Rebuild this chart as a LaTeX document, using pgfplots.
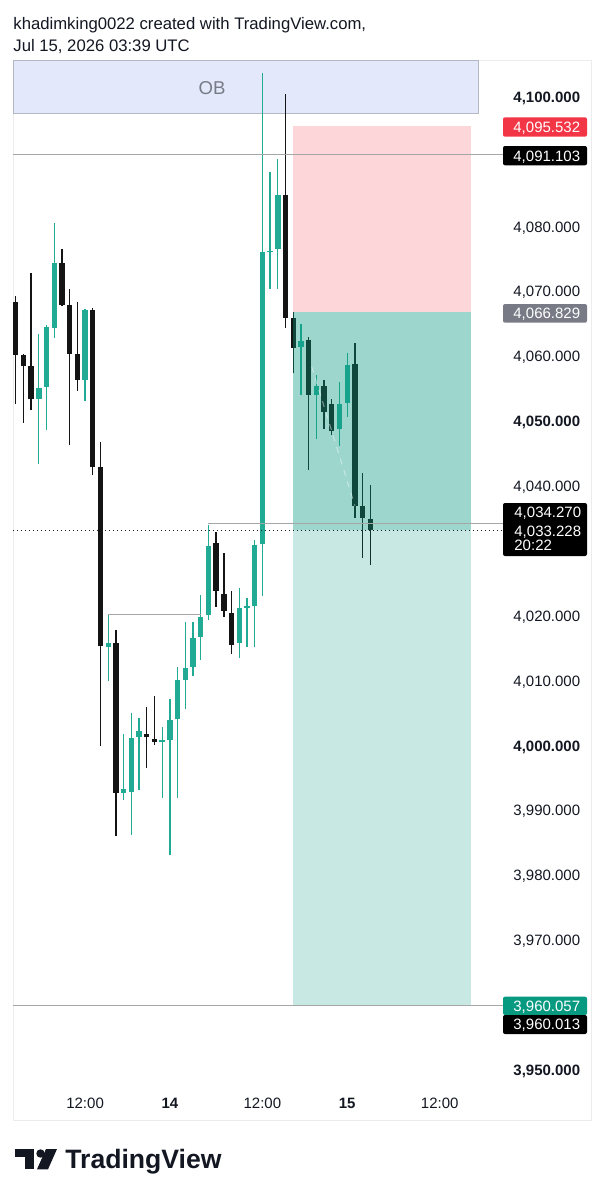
\documentclass[border=0pt]{standalone}
\usepackage{pgfplots}
\pgfplotsset{compat=1.18}
\usepackage{pgfplotstable}
\usepackage{fontspec}
\setmainfont{Liberation Sans}
\definecolor{tvup}{HTML}{22AB94}
\definecolor{tvdown}{HTML}{141414}
\definecolor{tvgreen}{HTML}{089981}
\definecolor{tvred}{HTML}{F23645}
\definecolor{tvgray}{HTML}{787B86}
\definecolor{tvtext}{HTML}{131722}
\definecolor{obfill}{HTML}{E3E8FB}
\definecolor{obline}{HTML}{B4B8C4}
\definecolor{hline}{HTML}{A6A6A6}
\definecolor{panel}{HTML}{ECECEC}
\newcommand\pf{\fontsize{7.5pt}{8pt}\selectfont}

% bullish candles: index, open, high, low, close
\pgfplotstableread{
i O H L C
3 4053.4 4063.5 4043.4 4055.2
4 4055.3 4064.9 4048.7 4064.5
5 4064.4 4080.6 4062.9 4074.4
9 4056.3 4067.3 4053.2 4067.1
12 4015.2 4020.15 4009.9 4015.8
14 3992.7 4001.8 3991.6 3993.3
15 3992.9 4005.0 3986.3 4001.2
16 4001.3 4004.3 3993.2 4002.2
19 4000.5 4002.9 3991.9 4000.8
20 4000.9 4007.2 3983.1 4004.0
21 4004.1 4012.2 3991.9 4010.1
22 4010.2 4019.0 4005.6 4011.9
23 4012.2 4019.1 4010.7 4016.6
24 4016.7 4023.3 4013.2 4019.9
25 4020.2 4034.0 4019.4 4030.8
29 4015.8 4024.3 4013.5 4021.3
30 4021.3 4022.7 4015.2 4021.6
31 4021.5 4031.7 4015.2 4031.0
32 4031.1 4103.7 4023.0 4076.1
33 4076.1 4088.5 4070.4 4076.3
34 4076.5 4090.4 4070.4 4084.9
37 4061.4 4065.0 4054.1 4062.4
39 4054.0 4057.2 4047.2 4055.5
42 4048.8 4056.0 4046.2 4052.7
43 4052.8 4060.5 4050.6 4058.7
}\bull

% bearish candles
\pgfplotstableread{
i O H L C
0 4068.4 4069.3 4052.6 4060.3
1 4060.3 4060.4 4049.8 4058.6
2 4058.6 4072.9 4051.7 4053.4
6 4074.4 4076.5 4067.8 4067.9
7 4068.0 4070.4 4046.3 4060.4
8 4060.4 4068.4 4054.7 4056.4
10 4067.1 4067.5 4041.7 4043.0
11 4043.0 4046.8 4000.0 4015.3
13 4015.9 4017.8 3986.1 3992.7
17 4001.8 4006.0 3996.5 4001.3
18 4001.0 4007.7 4000.1 4000.6
26 4031.2 4033.0 4021.4 4023.8
27 4023.4 4029.7 4019.9 4020.7
28 4020.5 4023.8 4014.2 4015.5
35 4084.9 4100.4 4064.4 4066.0
36 4066.0 4066.9 4057.4 4061.3
38 4062.5 4063.0 4042.5 4054.1
40 4055.5 4056.4 4048.8 4051.5
41 4052.6 4053.5 4047.9 4048.5
44 4058.8 4062.0 4035.1 4037.0
45 4037.0 4042.1 4028.9 4035.1
46 4034.9 4040.2 4027.8 4033.2
}\bear

\begin{document}
\begin{tikzpicture}[x=1pt,y=1pt]
\fill[white] (0,0) rectangle (302.5,-599.5);
\useasboundingbox (0,0) rectangle (302.5,-599.5);
\begin{scope}[x=0.5pt,y=-0.5pt]
\draw[panel, line width=0.5pt] (13,60) rectangle (591,1120);
\node[anchor=base west, text=tvtext, font=\fontsize{8.35pt}{9pt}\selectfont, inner sep=0pt] at (13,29.3) {khadimking0022 created with TradingView.com,};
\node[anchor=base west, text=tvtext, font=\fontsize{8.35pt}{9pt}\selectfont, inner sep=0pt] at (13,51.7) {Jul 15, 2026 03:39 UTC};
\end{scope}

\begin{axis}[
  at={(6.5pt,-30pt)}, anchor=north west,
  scale only axis, width=245pt, height=514pt,
  xmin=-0.3502, xmax=63.21, ymin=3947.23, ymax=4105.70,
  clip=false,
  axis line style={draw=none},
  tick style={draw=none}, major tick length=0pt,
  scaled y ticks=false, scaled x ticks=false,
  yticklabel pos=right,
  ytick={3950,3970,3980,3990,4000,4010,4020,4040,4050,4060,4070,4080,4100},
  yticklabels={{\textbf{3,950.000}},{3,970.000},{3,980.000},{3,990.000},{\textbf{4,000.000}},{4,010.000},{4,020.000},{4,040.000},{\textbf{4,050.000}},{4,060.000},{4,070.000},{4,080.000},{\textbf{4,100.000}}},
  yticklabel style={anchor=base west, inner sep=0pt, xshift=5pt, yshift=-2.7pt, font=\pf, text=tvtext},
  xtick={9,20,32,43,55},
  xticklabels={12:00,\textbf{14},12:00,\textbf{15},12:00},
  xticklabel style={anchor=base, inner sep=0pt, yshift=-10.2pt, font=\pf, text=tvtext},
]
% OB zone
\addplot[fill=obfill, draw=obline, line width=0.5pt, forget plot] coordinates {(-0.3502,4097.5) (59.97,4097.5) (59.97,4105.55) (-0.3502,4105.55)} -- cycle;
% wicks
\addplot[draw=none, mark=none, forget plot, error bars/.cd, y dir=plus, y explicit, error mark=none, error bar style={draw=tvup, line width=0.65pt}] table[x=i, y=L, y error plus expr=\thisrow{H}-\thisrow{L}] {\bull};
\addplot[draw=none, mark=none, forget plot, error bars/.cd, y dir=plus, y explicit, error mark=none, error bar style={draw=tvdown, line width=0.65pt}] table[x=i, y=L, y error plus expr=\thisrow{H}-\thisrow{L}] {\bear};
% bodies
\addplot[draw=none, mark=none, forget plot, error bars/.cd, y dir=plus, y explicit, error mark=none, error bar style={draw=tvup, line width=2.7pt}] table[x=i, y=O, y error plus expr=\thisrow{C}-\thisrow{O}] {\bull};
\addplot[draw=none, mark=none, forget plot, error bars/.cd, y dir=plus, y explicit, error mark=none, error bar style={draw=tvdown, line width=2.7pt}] table[x=i, y=C, y error plus expr=\thisrow{O}-\thisrow{C}] {\bear};
% short position tool
\addplot[fill=tvred, fill opacity=0.2, draw=none, forget plot] coordinates {(36,4066.829) (59.06,4066.829) (59.06,4095.532) (36,4095.532)} -- cycle;
\addplot[fill=tvgreen, fill opacity=0.22, draw=none, forget plot] coordinates {(36,3960.057) (59.06,3960.057) (59.06,4066.829) (36,4066.829)} -- cycle;
\addplot[fill=tvgreen, fill opacity=0.22, draw=none, forget plot] coordinates {(36,4033.228) (59.06,4033.228) (59.06,4066.829) (36,4066.829)} -- cycle;
\addplot[draw=white, opacity=0.45, dashed, line width=0.5pt, forget plot] coordinates {(38.4,4058.4) (44,4037.0)};
% horizontal levels
\addplot[draw=hline, line width=0.5pt, forget plot] coordinates {(-0.3502,4091.103) (63.21,4091.103)};
\addplot[draw=hline, line width=0.5pt, forget plot] coordinates {(25,4034.270) (63.21,4034.270)};
\addplot[draw=hline, line width=0.5pt, forget plot] coordinates {(12,4020.15) (24,4020.15)};
\addplot[draw=hline, line width=0.5pt, forget plot] coordinates {(-0.3502,3960.013) (63.21,3960.013)};
\addplot[draw=tvtext, line width=0.6pt, dash pattern=on 0.6pt off 1.4pt, forget plot] coordinates {(-0.3502,4033.228) (63.21,4033.228)};
\end{axis}

\begin{scope}[x=0.5pt,y=-0.5pt]
\node[text=tvgray, font=\fontsize{9.3pt}{10pt}\selectfont, inner sep=0pt] at (212,88) {OB};
% price scale labels
\fill[tvred, rounded corners=1pt] (503,117.3) rectangle (587,136.7);
\node[anchor=base west, text=white, font=\pf, inner sep=0pt] at (513,132.3) {4,095.532};
\fill[black, rounded corners=1pt] (503,146) rectangle (587,165.3);
\node[anchor=base west, text=white, font=\pf, inner sep=0pt] at (513,161) {4,091.103};
\fill[tvgray, rounded corners=1pt] (503,304) rectangle (587,322.7);
\node[anchor=base west, text=white, font=\pf, inner sep=0pt] at (513,318.6) {4,066.829};
\fill[black, rounded corners=1pt] (503,503) rectangle (587,556);
\node[anchor=base west, text=white, font=\pf, inner sep=0pt] at (514,517.3) {4,034.270};
\node[anchor=base west, text=white, font=\pf, inner sep=0pt] at (514,536) {4,033.228};
\node[anchor=base west, text=white, font=\pf, inner sep=0pt] at (514,550.3) {20:22};
\fill[tvgreen, rounded corners=1pt] (503,996.7) rectangle (587,1015);
\node[anchor=base west, text=white, font=\pf, inner sep=0pt] at (513,1011.1) {3,960.057};
\fill[black, rounded corners=1pt] (503,1015) rectangle (587,1034);
\node[anchor=base west, text=white, font=\pf, inner sep=0pt] at (513,1029.8) {3,960.013};
% footer logo
\fill[tvtext] (15,1149) rectangle (34,1157);
\fill[tvtext] (25,1149) rectangle (34,1169.3);
\fill[tvtext] (40.5,1153.5) circle (4.2);
\fill[tvtext] (46,1149) -- (57,1149) -- (48,1169.3) -- (37,1169.3) -- cycle;
\node[anchor=base west, text=tvtext, font=\fontsize{13.3pt}{14pt}\selectfont\bfseries, inner sep=0pt] at (65,1168.3) {TradingView};
\end{scope}
\end{tikzpicture}
\end{document}
